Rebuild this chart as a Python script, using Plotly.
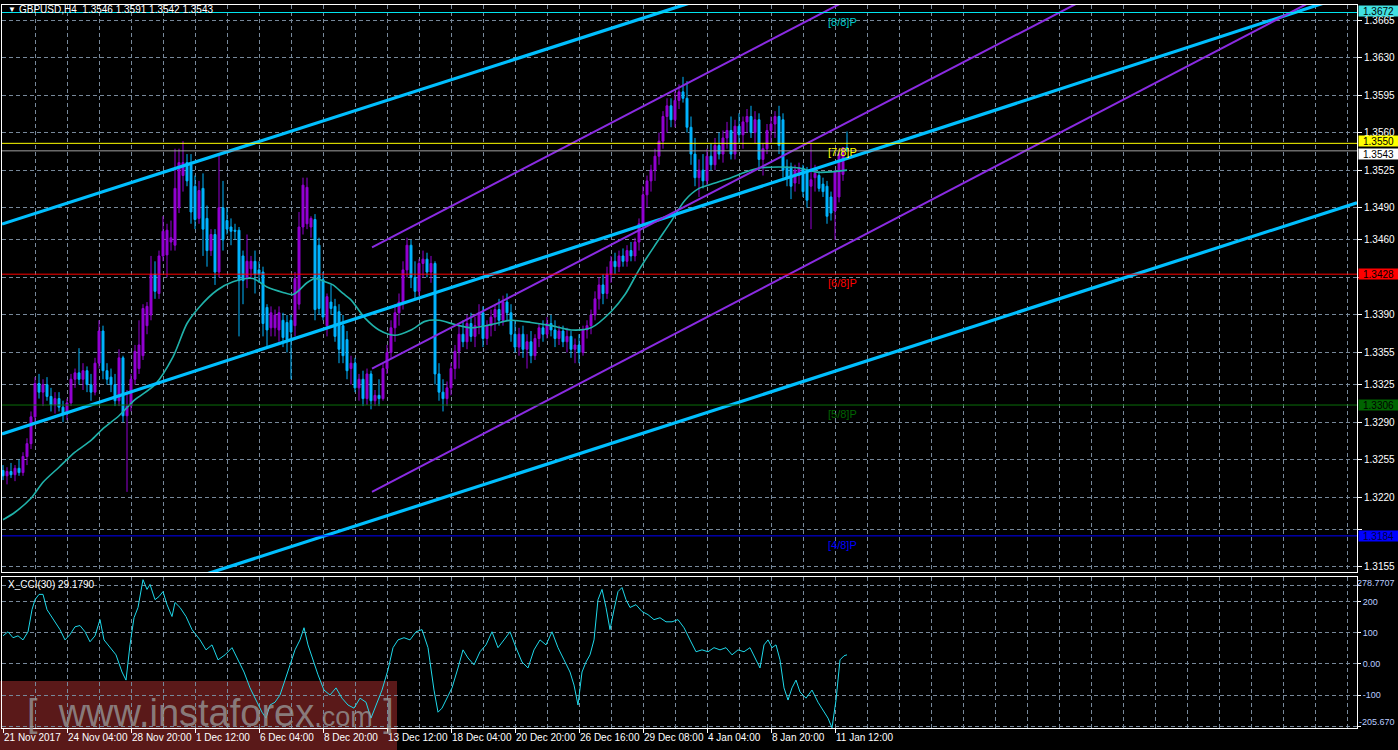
import plotly.graph_objects as go

# ---------------- data (GBPUSD H4) ----------------
bar_open = [1.3245,1.3240,1.3244,1.3241,1.3247,1.3243,1.3258,1.3270,1.3295,1.3326,
            1.3318,1.3325,1.3314,1.3306,1.3312,1.3304,1.3298,1.3308,1.3330,1.3336,
            1.3330,1.3338,1.3325,1.3318,1.3345,1.3375,1.3338,1.3332,1.3325,1.3310,
            1.3350,1.3296,1.3305,1.3330,1.3340,1.3352,1.3380,1.3390,1.3428,1.3410,
            1.3445,1.3446,1.3458,1.3455,1.3490,1.3520,1.3532,1.3530,1.3510,1.3480,
            1.3508,1.3480,1.3450,1.3465,1.3430,1.3490,1.3478,1.3472,1.3469,1.3469,
            1.3445,1.3424,1.3433,1.3440,1.3432,1.3430,1.3397,1.3378,1.3378,1.3376,
            1.3385,1.3383,1.3385,1.3380,1.3400,1.3472,1.3475,1.3472,1.3479,1.3455,
            1.3423,1.3380,1.3402,1.3398,1.3393,1.3380,1.3367,1.3340,1.3345,1.3322,
            1.3330,1.3312,1.3335,1.3310,1.3315,1.3312,1.3340,1.3355,1.3378,1.3392,
            1.3402,1.3432,1.3455,1.3425,1.3412,1.3438,1.3442,1.3430,1.3438,1.3335,
            1.3318,1.3312,1.3322,1.3340,1.3356,1.3372,1.3365,1.3382,1.3370,1.3380,
            1.3392,1.3368,1.3380,1.3388,1.3395,1.3385,1.3402,1.3392,1.3372,1.3360,
            1.3372,1.3358,1.3365,1.3352,1.3368,1.3378,1.3372,1.3382,1.3376,1.3368,
            1.3375,1.3365,1.3370,1.3358,1.3362,1.3355,1.3376,1.3380,1.3390,1.3405,
            1.3418,1.3410,1.3428,1.3440,1.3435,1.3445,1.3440,1.3450,1.3445,1.3458,
            1.3475,1.3502,1.3515,1.3525,1.3538,1.3552,1.3575,1.3585,1.3572,1.3590,
            1.3598,1.3592,1.3565,1.3540,1.3518,1.3525,1.3515,1.3538,1.3530,1.3548,
            1.3540,1.3555,1.3562,1.3540,1.3566,1.3558,1.3570,1.3575,1.3560,1.3572,
            1.3535,1.3545,1.3562,1.3568,1.3575,1.3572,1.3528,1.3528,1.3513,1.3520,
            1.3527,1.3524,1.3510,1.3518,1.3520,1.3512,1.3510,1.3500,1.3487,1.3500,
            1.3521,1.3546]
bar_high = [1.3250,1.3248,1.3252,1.3250,1.3255,1.3262,1.3275,1.3300,1.3332,1.3335,
            1.3330,1.3332,1.3322,1.3318,1.3318,1.3310,1.3312,1.3335,1.3340,1.3359,
            1.3345,1.3342,1.3335,1.3350,1.3385,1.3380,1.3345,1.3340,1.3335,1.3358,
            1.3352,1.3320,1.3335,1.3362,1.3385,1.3400,1.3402,1.3445,1.3440,1.3450,
            1.3482,1.3475,1.3478,1.3545,1.3545,1.3552,1.3540,1.3540,1.3520,1.3515,
            1.3522,1.3492,1.3470,1.3470,1.3540,1.3515,1.3490,1.3480,1.3475,1.3472,
            1.3450,1.3465,1.3445,1.3450,1.3440,1.3435,1.3400,1.3398,1.3395,1.3398,
            1.3392,1.3390,1.3390,1.3430,1.3486,1.3518,1.3518,1.3482,1.3484,1.3462,
            1.3430,1.3410,1.3418,1.3405,1.3400,1.3390,1.3375,1.3352,1.3350,1.3335,
            1.3338,1.3340,1.3338,1.3320,1.3330,1.3345,1.3362,1.3385,1.3400,1.3410,
            1.3440,1.3462,1.3460,1.3440,1.3442,1.3450,1.3448,1.3445,1.3440,1.3345,
            1.3330,1.3328,1.3345,1.3362,1.3380,1.3385,1.3390,1.3392,1.3388,1.3400,
            1.3398,1.3385,1.3395,1.3400,1.3405,1.3408,1.3410,1.3400,1.3385,1.3378,
            1.3380,1.3372,1.3375,1.3372,1.3382,1.3385,1.3388,1.3390,1.3385,1.3380,
            1.3380,1.3378,1.3375,1.3368,1.3372,1.3380,1.3385,1.3395,1.3412,1.3425,
            1.3428,1.3435,1.3445,1.3448,1.3450,1.3452,1.3455,1.3458,1.3462,1.3480,
            1.3510,1.3520,1.3530,1.3545,1.3560,1.3580,1.3592,1.3592,1.3598,1.3605,
            1.3612,1.3608,1.3575,1.3555,1.3535,1.3540,1.3545,1.3550,1.3555,1.3560,
            1.3562,1.3570,1.3575,1.3572,1.3578,1.3575,1.3582,1.3585,1.3580,1.3578,
            1.3550,1.3568,1.3575,1.3580,1.3585,1.3578,1.3535,1.3532,1.3530,1.3532,
            1.3530,1.3528,1.3550,1.3530,1.3524,1.3518,1.3515,1.3505,1.3525,1.3545,
            1.3545,1.3561]
bar_low = [1.3236,1.3232,1.3238,1.3235,1.3240,1.3240,1.3250,1.3265,1.3290,1.3312,
           1.3305,1.3310,1.3300,1.3298,1.3300,1.3290,1.3292,1.3305,1.3322,1.3325,
           1.3320,1.3318,1.3310,1.3315,1.3340,1.3330,1.3325,1.3318,1.3305,1.3305,
           1.3290,1.3225,1.3300,1.3325,1.3335,1.3348,1.3372,1.3385,1.3405,1.3405,
           1.3440,1.3425,1.3450,1.3450,1.3485,1.3505,1.3510,1.3475,1.3470,1.3475,
           1.3445,1.3435,1.3445,1.3418,1.3425,1.3450,1.3465,1.3455,1.3460,1.3370,
           1.3400,1.3415,1.3425,1.3410,1.3420,1.3370,1.3360,1.3370,1.3370,1.3365,
           1.3360,1.3355,1.3330,1.3370,1.3395,1.3465,1.3470,1.3462,1.3385,1.3390,
           1.3385,1.3370,1.3390,1.3365,1.3345,1.3345,1.3330,1.3325,1.3318,1.3310,
           1.3305,1.3306,1.3302,1.3305,1.3305,1.3310,1.3335,1.3350,1.3365,1.3380,
           1.3395,1.3425,1.3415,1.3405,1.3408,1.3425,1.3425,1.3420,1.3325,1.3310,
           1.3300,1.3305,1.3315,1.3330,1.3340,1.3360,1.3358,1.3365,1.3360,1.3372,
           1.3360,1.3362,1.3370,1.3375,1.3380,1.3380,1.3385,1.3365,1.3355,1.3352,
           1.3350,1.3340,1.3345,1.3348,1.3360,1.3365,1.3368,1.3370,1.3360,1.3362,
           1.3360,1.3355,1.3350,1.3345,1.3345,1.3352,1.3368,1.3372,1.3385,1.3395,
           1.3400,1.3405,1.3420,1.3428,1.3430,1.3435,1.3435,1.3440,1.3440,1.3450,
           1.3470,1.3490,1.3505,1.3515,1.3530,1.3545,1.3560,1.3565,1.3565,1.3582,
           1.3588,1.3560,1.3530,1.3510,1.3500,1.3508,1.3510,1.3525,1.3525,1.3535,
           1.3532,1.3545,1.3535,1.3535,1.3550,1.3545,1.3560,1.3555,1.3550,1.3525,
           1.3520,1.3540,1.3550,1.3555,1.3540,1.3518,1.3510,1.3498,1.3505,1.3512,
           1.3500,1.3490,1.3470,1.3505,1.3505,1.3500,1.3475,1.3478,1.3460,1.3495,
           1.3515,1.3542]
bar_close = [1.3240,1.3244,1.3241,1.3247,1.3243,1.3258,1.3270,1.3295,1.3326,1.3318,
             1.3325,1.3314,1.3306,1.3312,1.3304,1.3298,1.3308,1.3330,1.3336,1.3330,
             1.3338,1.3325,1.3318,1.3345,1.3375,1.3338,1.3330,1.3325,1.3310,1.3350,
             1.3296,1.3305,1.3330,1.3356,1.3362,1.3396,1.3398,1.3428,1.3412,1.3445,
             1.3468,1.3469,1.3462,1.3508,1.3532,1.3532,1.3515,1.3486,1.3479,1.3506,
             1.3470,1.3450,1.3465,1.3430,1.3490,1.3460,1.3470,1.3468,1.3468,1.3422,
             1.3422,1.3440,1.3440,1.3428,1.3428,1.3382,1.3376,1.3392,1.3390,1.3392,
             1.3369,1.3367,1.3374,1.3424,1.3472,1.3511,1.3509,1.3480,1.3395,1.3396,
             1.3388,1.3407,1.3396,1.3370,1.3358,1.3352,1.3338,1.3345,1.3322,1.3330,
             1.3312,1.3335,1.3310,1.3315,1.3312,1.3340,1.3355,1.3378,1.3392,1.3402,
             1.3432,1.3455,1.3425,1.3412,1.3438,1.3442,1.3430,1.3438,1.3335,1.3318,
             1.3312,1.3322,1.3340,1.3356,1.3372,1.3365,1.3382,1.3370,1.3380,1.3392,
             1.3368,1.3380,1.3388,1.3395,1.3385,1.3402,1.3392,1.3372,1.3360,1.3372,
             1.3358,1.3365,1.3352,1.3368,1.3378,1.3372,1.3382,1.3376,1.3368,1.3375,
             1.3365,1.3370,1.3358,1.3362,1.3355,1.3376,1.3380,1.3390,1.3405,1.3418,
             1.3410,1.3428,1.3440,1.3435,1.3445,1.3440,1.3450,1.3445,1.3458,1.3475,
             1.3502,1.3515,1.3525,1.3538,1.3552,1.3575,1.3585,1.3572,1.3590,1.3598,
             1.3592,1.3565,1.3540,1.3518,1.3525,1.3515,1.3538,1.3530,1.3548,1.3540,
             1.3555,1.3562,1.3540,1.3566,1.3558,1.3570,1.3575,1.3560,1.3572,1.3535,
             1.3545,1.3562,1.3568,1.3575,1.3548,1.3525,1.3518,1.3510,1.3525,1.3527,
             1.3505,1.3497,1.3516,1.3522,1.3508,1.3505,1.3482,1.3485,1.3524,1.3540,
             1.3546,1.3543]
bar_index = list(range(len(bar_open)))

# moving average
ma_bar = [0,3,7,10,14,18,22,25,29,33,38,42.5,46,49,53.5,57.5,62.5,66,70,72.5,74,76,78,80.5,
          82.5,85,87,90.5,94,98,102,105.5,109,113,117,122,127,132,137,142,147,152,155.5,159,
          163,167,170.5,174,178,182,185.5,189,194,199,204,211]
ma_val = [1.3199,1.3206,1.3219,1.3234,1.3248,1.3262,1.3273,1.3284,1.3296,1.3311,1.3325,1.3351,
          1.3382,1.3397,1.3413,1.3421,1.3424,1.3416,1.3411,1.3409,1.3413,1.3420,1.3424,1.3421,
          1.3418,1.3410,1.3404,1.3387,1.3376,1.3371,1.3376,1.3384,1.3385,1.3381,1.3378,1.3381,
          1.3385,1.3383,1.3380,1.3376,1.3378,1.3393,1.3409,1.3432,1.3455,1.3477,1.3497,1.3508,
          1.3513,1.3518,1.3523,1.3527,1.3528,1.3527,1.3523,1.3525]

# CCI(30)
cci_bar = [0,1.25,2.5,3.75,5,6.25,7.25,8,9,10,11,12,13,14.25,15.5,16.75,18,19.25,20.5,21.75,
           23,24.25,25.25,26.75,28.25,29.75,30.75,31.75,32.75,33.75,35,36,36.75,38,39,40,41,
           42.25,43,44.25,45.75,47.25,49.25,50.75,52.25,53.75,55.5,57.25,58.75,60.25,61.75,
           63.25,64.75,65.75,66.75,68,69.25,70.5,71.75,73,74.25,75.25,76.25,77.5,78.75,80.25,
           81.75,83.25,84.75,86.25,87.75,89.25,90.75,92,93.25,94.75,96.25,97.5,98.75,100.25,
           101.75,103.25,104.75,106.25,107.75,108.75,109.75,111,112.25,113.75,115,116.25,
           117.75,119.25,120.75,122.25,123.75,125.25,126.75,128.25,129.75,131.25,132.75,
           134.25,135.75,137.25,138.75,140.25,141.75,142.75,143.75,144.75,145.75,146.75,
           147.75,148.75,149.75,150.75,151.75,152.75,153.75,154.75,155.75,156.75,158.25,
           159.75,161.25,162.75,164.25,165.75,167.25,168.75,170.25,171.75,173.25,174.75,
           176.25,177.75,179.25,180.75,182.25,183.75,185.25,186.75,188.25,189.25,190.25,
           191.25,192.25,193.25,194.25,195.25,196.25,197.25,198.25,199.25,200.75,202.25,
           203.75,205.25,206.25,207.25,208.25,209.25,210.25,211]
cci_val = [90,103,84,90,77,103,174,206,223,223,174,155,135,110,77,94,119,123,103,71,
           90,142,77,52,29,-26,-52,61,148,181,270,239,255,206,216,232,190,
           152,197,181,152,110,77,45,61,13,29,52,13,-26,-77,
           -116,-155,-174,-132,-123,-100,-52,-3,45,77,116,61,13,-35,-84,
           -100,-77,-110,-132,-142,-110,-123,-174,-132,-84,-19,52,77,84,
           77,103,110,52,-84,-155,-142,-110,-77,-13,45,19,
           -3,39,61,103,52,77,103,52,6,-13,45,
           77,61,103,52,13,-26,-68,-132,-26,6,29,
           77,206,239,181,110,174,232,245,206,181,190,
           168,158,142,148,135,135,142,116,77,39,45,
           39,52,45,52,29,45,39,52,13,-13,61,
           77,52,61,13,-77,-116,-77,-52,-90,-110,-84,
           -123,-155,-174,-205,-116,13,26,29.179]

date_tick_bars = [0,16,32,48,64,80,96,112,128,144,160,176,192,208]
date_tick_labels = ["21 Nov 2017","24 Nov 04:00","28 Nov 20:00","1 Dec 12:00","6 Dec 04:00",
                    "8 Dec 20:00","13 Dec 12:00","18 Dec 04:00","20 Dec 20:00","26 Dec 16:00",
                    "29 Dec 08:00","4 Jan 04:00","8 Jan 20:00","11 Jan 12:00"]

price_ticks = [1.3155,1.3190,1.3220,1.3255,1.3290,1.3325,1.3355,1.3390,1.3425,1.3460,
               1.3490,1.3525,1.3560,1.3595,1.3630,1.3665]
price_tick_labels = ["1.3155","","1.3220","1.3255","1.3290","1.3325","1.3355","1.3390","",
                     "1.3460","1.3490","1.3525","1.3560","1.3595","1.3630","1.3665"]
cci_ticks = [250,200,100,0,-100,-200]
cci_tick_labels = ["","200","100","0.00","-100",""]
cci_max_label, cci_min_label = "278.7707", "-205.670"

# Murrey math levels + bid line
level_prices = [1.3672,1.3550,1.3543,1.3428,1.3306,1.3184]
level_names = ["[8/8]P","[7/8]P","","[6/8]P","[5/8]P","[4/8]P"]
level_line_colors = ["#00E5EE","#FFFF00","#A0A0A0","#FF0000","#0A6E0A","#0000FF"]
level_label_bg = ["#40E0E0","#FFFF00","#FFFFFF","#FF0000","#006400","#0000FF"]
level_label_fg = ["#000000","#000000","#000000","#000000","#000000","#000040"]
level_text_colors = ["#00C8C8","#FFFF00","#A0A0A0","#FF0000","#006400","#0000FF"]
level_label_shift = [2, 2, -3, 0, 0, 0]

# trend channels: two anchor points (bar, price) each
blue_lines = [((0, 1.3475), (86.75, 1.3579)),
              ((34.25, 1.3321), (224.25, 1.3552)),
              ((194.25, 1.3321), (338.0, 1.3494))]
purple_lines = [((92.25, 1.3453), (194.25, 1.3651)),
                ((92.25, 1.3340), (224.25, 1.3595)),
                ((92.25, 1.3225), (224.25, 1.3482))]

title_text = "GBPUSD,H4  1.3546 1.3591 1.3542 1.3543"
cci_title = "X_CCI(30) 29.1790"

# ---------------- geometry ----------------
W, H = 1398, 750
LPX, RPX, TPX, BPX = 2, 1357, 5, 728
MAIN_BOT, CCI_TOP = 572, 577
PW, PH = RPX - LPX, BPX - TPX
X_RANGE = [-0.25, 338.5]
Y_RANGE = [1.31503, 1.36790]
CCI_RANGE = [-205.67, 278.7707]


def px_x(x):
    return (x - LPX) / PW


def px_y(y):
    return (BPX - y) / PH


FONT = "Liberation Sans"
GRID = "#77889A"
PURPLE = "#9400D3"
BLUE = "#00B4FF"
CCI_LABEL = "#B8CCFF"

fig = go.Figure()

fig.add_trace(go.Candlestick(
    x=bar_index, open=bar_open, high=bar_high, low=bar_low, close=bar_close,
    increasing=dict(line=dict(color=PURPLE, width=1), fillcolor=PURPLE),
    decreasing=dict(line=dict(color=BLUE, width=1), fillcolor=BLUE),
    whiskerwidth=0, xaxis="x", yaxis="y", hoverinfo="skip"))

fig.add_trace(go.Scatter(x=ma_bar, y=ma_val, mode="lines", xaxis="x", yaxis="y",
                         line=dict(color="#20B2AA", width=1.6, shape="spline", smoothing=0.8),
                         hoverinfo="skip"))


def extend(line, start=None):
    (b0, p0), (b1, p1) = line
    k = (p1 - p0) / (b1 - b0)
    bs = X_RANGE[0] if start is None else start
    be = X_RANGE[1]
    return [bs, be], [p0 + k * (bs - b0), p0 + k * (be - b0)]


for ln in blue_lines:
    xs, ys = extend(ln)
    fig.add_trace(go.Scatter(x=xs, y=ys, mode="lines", xaxis="x", yaxis="y",
                             line=dict(color="#00BFFF", width=3.2), hoverinfo="skip"))
for ln in purple_lines:
    xs, ys = extend(ln, start=ln[0][0])
    fig.add_trace(go.Scatter(x=xs, y=ys, mode="lines", xaxis="x", yaxis="y",
                             line=dict(color="#8A2BE2", width=2), hoverinfo="skip"))

fig.add_trace(go.Scatter(x=cci_bar, y=cci_val, mode="lines", xaxis="x2", yaxis="y2",
                         line=dict(color="#1ED8EA", width=1), hoverinfo="skip"))

shapes = []
annotations = []
for p, nm, lc, bg, fg, tc, sh in zip(level_prices, level_names, level_line_colors,
                                     level_label_bg, level_label_fg, level_text_colors,
                                     level_label_shift):
    shapes.append(dict(type="line", xref="x domain", yref="y", x0=0, x1=1, y0=p, y1=p,
                       line=dict(color=lc, width=1), layer="above"))
    annotations.append(dict(xref="paper", yref="y", x=px_x(1358), y=p, xanchor="left",
                            yanchor="middle", yshift=sh, text=f"{p:.4f}", showarrow=False,
                            bgcolor=bg, font=dict(family=FONT, size=10, color=fg),
                            width=39, height=10, align="center", borderpad=0))
    if nm:
        annotations.append(dict(xref="x", yref="y", x=205.8, y=p, xanchor="left",
                                yanchor="top", yshift=-1, text=nm, showarrow=False,
                                font=dict(family=FONT, size=11, color=tc)))

# CCI scale max / min labels
annotations.append(dict(xref="paper", yref="paper", x=px_x(1397), y=px_y(583),
                        xanchor="right", yanchor="middle", showarrow=False, text=cci_max_label,
                        font=dict(family=FONT, size=9, color=CCI_LABEL)))
annotations.append(dict(xref="paper", yref="paper", x=px_x(1397), y=px_y(722),
                        xanchor="right", yanchor="middle", showarrow=False, text=cci_min_label,
                        font=dict(family=FONT, size=9, color=CCI_LABEL)))

# watermark box
shapes.append(dict(type="rect", xref="paper", yref="paper", x0=px_x(0), x1=px_x(397),
                   y0=px_y(750), y1=px_y(681), fillcolor="rgba(95,26,26,0.95)",
                   line=dict(width=0), layer="below"))

annotations.append(dict(xref="paper", yref="paper", x=px_x(25), y=px_y(713),
                        xanchor="left", yanchor="middle", showarrow=False,
                        text="[  www.instaforex<span style='font-size:27px'>.com</span> ]",
                        font=dict(family=FONT, size=38, color="rgba(150,150,150,0.8)")))
annotations.append(dict(xref="paper", yref="paper", x=px_x(6), y=px_y(10),
                        xanchor="left", yanchor="middle", showarrow=False, text="▼",
                        font=dict(family=FONT, size=8, color="#FFFFFF")))
annotations.append(dict(xref="paper", yref="paper", x=px_x(17), y=px_y(10),
                        xanchor="left", yanchor="middle", showarrow=False, text=title_text,
                        font=dict(family=FONT, size=10, color="#FFFFFF")))
annotations.append(dict(xref="paper", yref="paper", x=px_x(6), y=px_y(584),
                        xanchor="left", yanchor="middle", showarrow=False, text=cci_title,
                        font=dict(family=FONT, size=10, color="#FFFFFF")))

axis_common = dict(showline=True, linecolor="#FFFFFF", linewidth=1, mirror=True,
                   zeroline=False, gridcolor=GRID, griddash="4px,3px", gridwidth=1,
                   automargin=False)

fig.update_layout(
    width=W, height=H,
    margin=dict(l=LPX, r=W - RPX, t=TPX, b=H - BPX, pad=0, autoexpand=False),
    paper_bgcolor="#000000", plot_bgcolor="rgba(0,0,0,0)",
    showlegend=False, hovermode=False,
    font=dict(family=FONT, size=10, color="#FFFFFF"),
    xaxis=dict(domain=[0, 1], anchor="y", range=X_RANGE, tickmode="linear", tick0=0, dtick=8,
               showticklabels=False, ticks="", showgrid=True, rangeslider=dict(visible=False),
               **axis_common),
    yaxis=dict(domain=[px_y(MAIN_BOT), 1], anchor="x", range=Y_RANGE, side="right",
               tickmode="array", tickvals=price_ticks, ticktext=price_tick_labels,
               ticks="outside", ticklen=4, tickcolor="#FFFFFF", showgrid=True,
               tickfont=dict(family=FONT, size=10, color="#FFFFFF"), **axis_common),
    xaxis2=dict(domain=[0, 1], anchor="y2", range=X_RANGE, tickmode="array",
                tickvals=date_tick_bars, ticktext=date_tick_labels, tickangle=0,
                ticklabelposition="outside right", ticks="outside", ticklen=4,
                tickcolor="#FFFFFF", showgrid=True,
                minor=dict(tickmode="linear", tick0=0, dtick=8, showgrid=True,
                           gridcolor=GRID, griddash="4px,3px", ticks=""),
                tickfont=dict(family=FONT, size=10, color="#FFFFFF"), **axis_common),
    yaxis2=dict(domain=[0, px_y(CCI_TOP)], anchor="x2", range=CCI_RANGE, side="right",
                tickmode="array", tickvals=cci_ticks, ticktext=cci_tick_labels,
                ticks="outside", ticklen=3, tickcolor="#FFFFFF", showgrid=True,
                tickfont=dict(family=FONT, size=9, color=CCI_LABEL), **axis_common),
    shapes=shapes, annotations=annotations,
)

fig.write_html("out.html", config={"displayModeBar": False},
               post_script="document.body.style.margin='0';document.body.style.overflow='hidden';")
